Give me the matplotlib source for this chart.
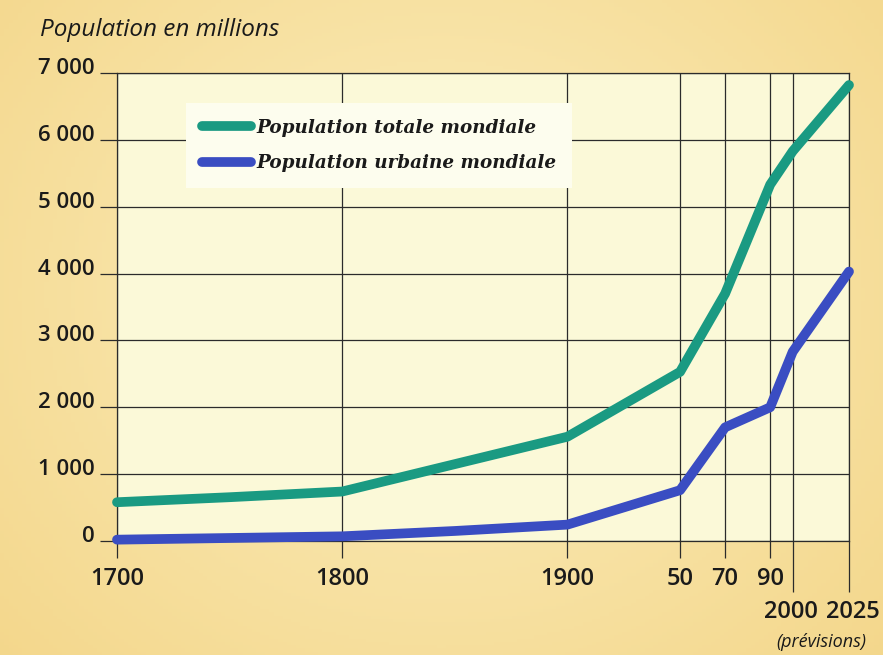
import numpy as np
import matplotlib
matplotlib.use("Agg")
import matplotlib.pyplot as plt
from matplotlib.transforms import ScaledTranslation, blended_transform_factory

# ---- data ----
years = [1700, 1750, 1800, 1850, 1900, 1950, 1970, 1990, 2000, 2025]
total = [580, 655, 740, 1150, 1560, 2530, 3700, 5330, 5830, 6820]
urban = [20, 45, 70, 150, 245, 760, 1700, 2000, 2830, 4030]

tick_years = [1700, 1800, 1900, 1950, 1970, 1990, 2000, 2025]
tick_labels = ["1700", "1800", "1900", "50", "70", "90", "2000", "2025"]
y_ticks = [0, 1000, 2000, 3000, 4000, 5000, 6000, 7000]
y_labels = ["0", "1 000", "2 000", "3 000", "4 000", "5 000", "6 000", "7 000"]

series_labels = ["Population totale mondiale", "Population urbaine mondiale"]
c_total = "#1a9a82"
c_urban = "#3a4dc2"

W, H = 883, 655
fig = plt.figure(figsize=(W / 100, H / 100), dpi=100)

# ---- background paper gradient ----
bg = fig.add_axes([0, 0, 1, 1], zorder=-10)
bg.set_axis_off()
yy, xx = np.mgrid[0:1:200j, 0:1:200j]
d = np.sqrt(((xx - 0.5) / 0.75) ** 2 + ((yy - 0.55) / 0.9) ** 2)
d = np.clip(d, 0, 1)
c_in = np.array([252, 238, 190]) / 255
c_out = np.array([243, 213, 135]) / 255
img = c_in[None, None, :] * (1 - d[..., None]) + c_out[None, None, :] * d[..., None]
bg.imshow(img, extent=[0, 1, 0, 1], aspect="auto", origin="lower")
bg.set_xlim(0, 1)
bg.set_ylim(0, 1)

# ---- main axes ----
left, right = 117 / W, 849 / W
bottom, top = 1 - 541 / H, 1 - 73 / H
ax = fig.add_axes([left, bottom, right - left, top - bottom])
ax.set_facecolor("#fbf9d8")
ax.set_xlim(1700, 2025)
ax.set_ylim(0, 7000)

gc = "#2b2b2b"
ax.set_xticks(tick_years)
ax.set_xticklabels([""] * len(tick_years))
ax.set_yticks(y_ticks)
ax.set_yticklabels(y_labels)
ax.grid(True, color=gc, linewidth=0.9)
ax.set_axisbelow(True)
for s in ax.spines.values():
    s.set_color(gc)
    s.set_linewidth(0.9)

ax.tick_params(axis="both", color=gc, width=0.9, length=12)
ax.tick_params(axis="y", pad=4, labelsize=16)
for lab in ax.get_yticklabels():
    lab.set_fontfamily("Open Sans")
    lab.set_fontweight("semibold")
    lab.set_color("#1a1a1a")
    lab.set_transform(lab.get_transform() + ScaledTranslation(0, 5 / 72, fig.dpi_scale_trans))

# longer ticks for 2000 / 2025
xt = ax.xaxis.get_major_ticks()
for t in xt[-2:]:
    t.tick1line.set_markersize(37)

# x labels as text
tr = blended_transform_factory(ax.transData, ax.transAxes)
x_shift = {2000: -2, 2025: 4}
for yr, lb in zip(tick_years, tick_labels):
    low = yr >= 2000
    off = -71 if low else -38
    ax.annotate(lb, xy=(yr, 0), xycoords=tr, xytext=(x_shift.get(yr, 0), off),
                textcoords="offset pixels", ha="center", va="center", fontsize=17,
                fontfamily="Open Sans", fontweight="semibold", color="#1a1a1a",
                annotation_clip=False)
ax.annotate("(prévisions)", xy=(2025, 0), xycoords=tr, xytext=(-28, -101),
            textcoords="offset pixels", ha="center", va="center", fontsize=13,
            fontfamily="Open Sans", style="italic", color="#1a1a1a", annotation_clip=False)

# ---- series ----
lw = 7
ax.plot(years, total, color=c_total, lw=lw, solid_capstyle="round",
        solid_joinstyle="round", clip_on=False, zorder=5, label=series_labels[0])
ax.plot(years, urban, color=c_urban, lw=lw, solid_capstyle="round",
        solid_joinstyle="round", clip_on=False, zorder=5, label=series_labels[1])

leg = ax.legend(loc="upper left", bbox_to_anchor=(186 / W, 1 - 103 / H),
                bbox_transform=fig.transFigure, frameon=True, fancybox=False,
                facecolor="#fdfdee", edgecolor="none", framealpha=1,
                handlelength=2.7, handletextpad=0.3, labelspacing=0.95,
                borderpad=0.85, borderaxespad=0,
                prop={"family": "DejaVu Serif", "weight": "bold", "style": "italic", "size": 13.2})
for t in leg.get_texts():
    t.set_color("#1a1a1a")

fig.text(40 / W, 1 - 30 / H, "Population en millions", ha="left", va="center",
         fontsize=17.5, fontfamily="Open Sans", style="italic", color="#1a1a1a")

fig.savefig("out.png", dpi=100)
